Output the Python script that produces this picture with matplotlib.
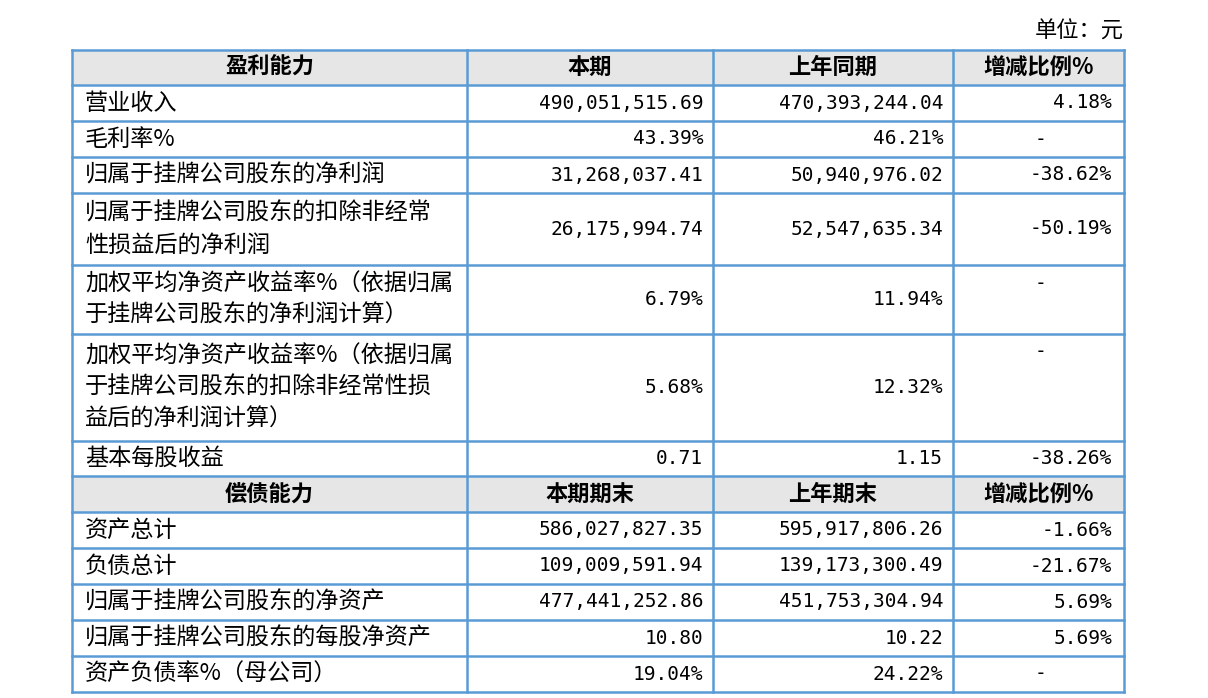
import matplotlib
matplotlib.use("Agg")
import matplotlib.pyplot as plt
from matplotlib.patches import Rectangle

headers1 = ["盈利能力", "本期", "上年同期", "增减比例%"]
headers2 = ["偿债能力", "本期期末", "上年期末", "增减比例%"]
labels1 = ["营业收入", "毛利率%", "归属于挂牌公司股东的净利润",
           "归属于挂牌公司股东的扣除非经常\n性损益后的净利润",
           "加权平均净资产收益率%（依据归属\n于挂牌公司股东的净利润计算）",
           "加权平均净资产收益率%（依据归属\n于挂牌公司股东的扣除非经常性损\n益后的净利润计算）",
           "基本每股收益"]
cur1 = ["490,051,515.69", "43.39%", "31,268,037.41", "26,175,994.74", "6.79%", "5.68%", "0.71"]
prev1 = ["470,393,244.04", "46.21%", "50,940,976.02", "52,547,635.34", "11.94%", "12.32%", "1.15"]
chg1 = ["4.18%", "-", "-38.62%", "-50.19%", "-", "-", "-38.26%"]
labels2 = ["资产总计", "负债总计", "归属于挂牌公司股东的净资产", "归属于挂牌公司股东的每股净资产", "资产负债率%（母公司）"]
cur2 = ["586,027,827.35", "109,009,591.94", "477,441,252.86", "10.80", "19.04%"]
prev2 = ["595,917,806.26", "139,173,300.49", "451,753,304.94", "10.22", "24.22%"]
chg2 = ["-1.66%", "-21.67%", "5.69%", "5.69%", "-"]

xs = [72, 467, 713, 953, 1124]
ys = [50, 85, 121, 157, 193, 265, 334, 441, 476, 512, 548, 584, 620, 656, 692]
border = "#5B9BD5"
cjk = ["Noto Sans CJK SC", "DejaVu Sans"]
mono = ["DejaVu Sans Mono", "Noto Sans CJK SC"]

fig = plt.figure(figsize=(12.08, 6.98), dpi=100)
ax = fig.add_axes([0, 0, 1, 1])
ax.set_xlim(0, 1208); ax.set_ylim(698, 0); ax.axis("off")

ax.text(1124, 31, "单位：元", ha="right", va="center", fontsize=16, family=cjk)

for hy0, hy1 in [(ys[0], ys[1]), (ys[8], ys[9])]:
    ax.add_patch(Rectangle((xs[0], hy0), xs[-1]-xs[0], hy1-hy0, facecolor="#E6E6E6", edgecolor="none"))
for y in ys:
    ax.plot([xs[0], xs[-1]], [y, y], color=border, lw=1.8)
for x in xs:
    ax.plot([x, x], [ys[0], ys[-1]], color=border, lw=1.8)

def header(row, hs):
    yc = (ys[row] + ys[row+1]) / 2
    for i, h in enumerate(hs):
        ax.text((xs[i]+xs[i+1])/2, yc, h, ha="center", va="center", fontsize=16,
                fontweight="bold", family=cjk)

def body(start, labels, cur, prev, chg, top_dash=()):
    for k in range(len(labels)):
        r = start + k
        yc = (ys[r] + ys[r+1]) / 2
        ax.text(85, yc, labels[k], ha="left", va="center", fontsize=16.7, family=cjk, linespacing=1.48)
        ax.text(703, yc, cur[k], ha="right", va="center", fontsize=14, family=mono)
        ax.text(943, yc, prev[k], ha="right", va="center", fontsize=14, family=mono)
        if chg[k] == "-":
            yy = ys[r] + 18 if k in top_dash else yc
            ax.text(1040, yy, chg[k], ha="center", va="center", fontsize=14, family=mono)
        else:
            ax.text(1112, yc, chg[k], ha="right", va="center", fontsize=14, family=mono)

header(0, headers1)
body(1, labels1, cur1, prev1, chg1, top_dash=(4, 5))
header(8, headers2)
body(9, labels2, cur2, prev2, chg2)

fig.savefig("out.png", dpi=100)
